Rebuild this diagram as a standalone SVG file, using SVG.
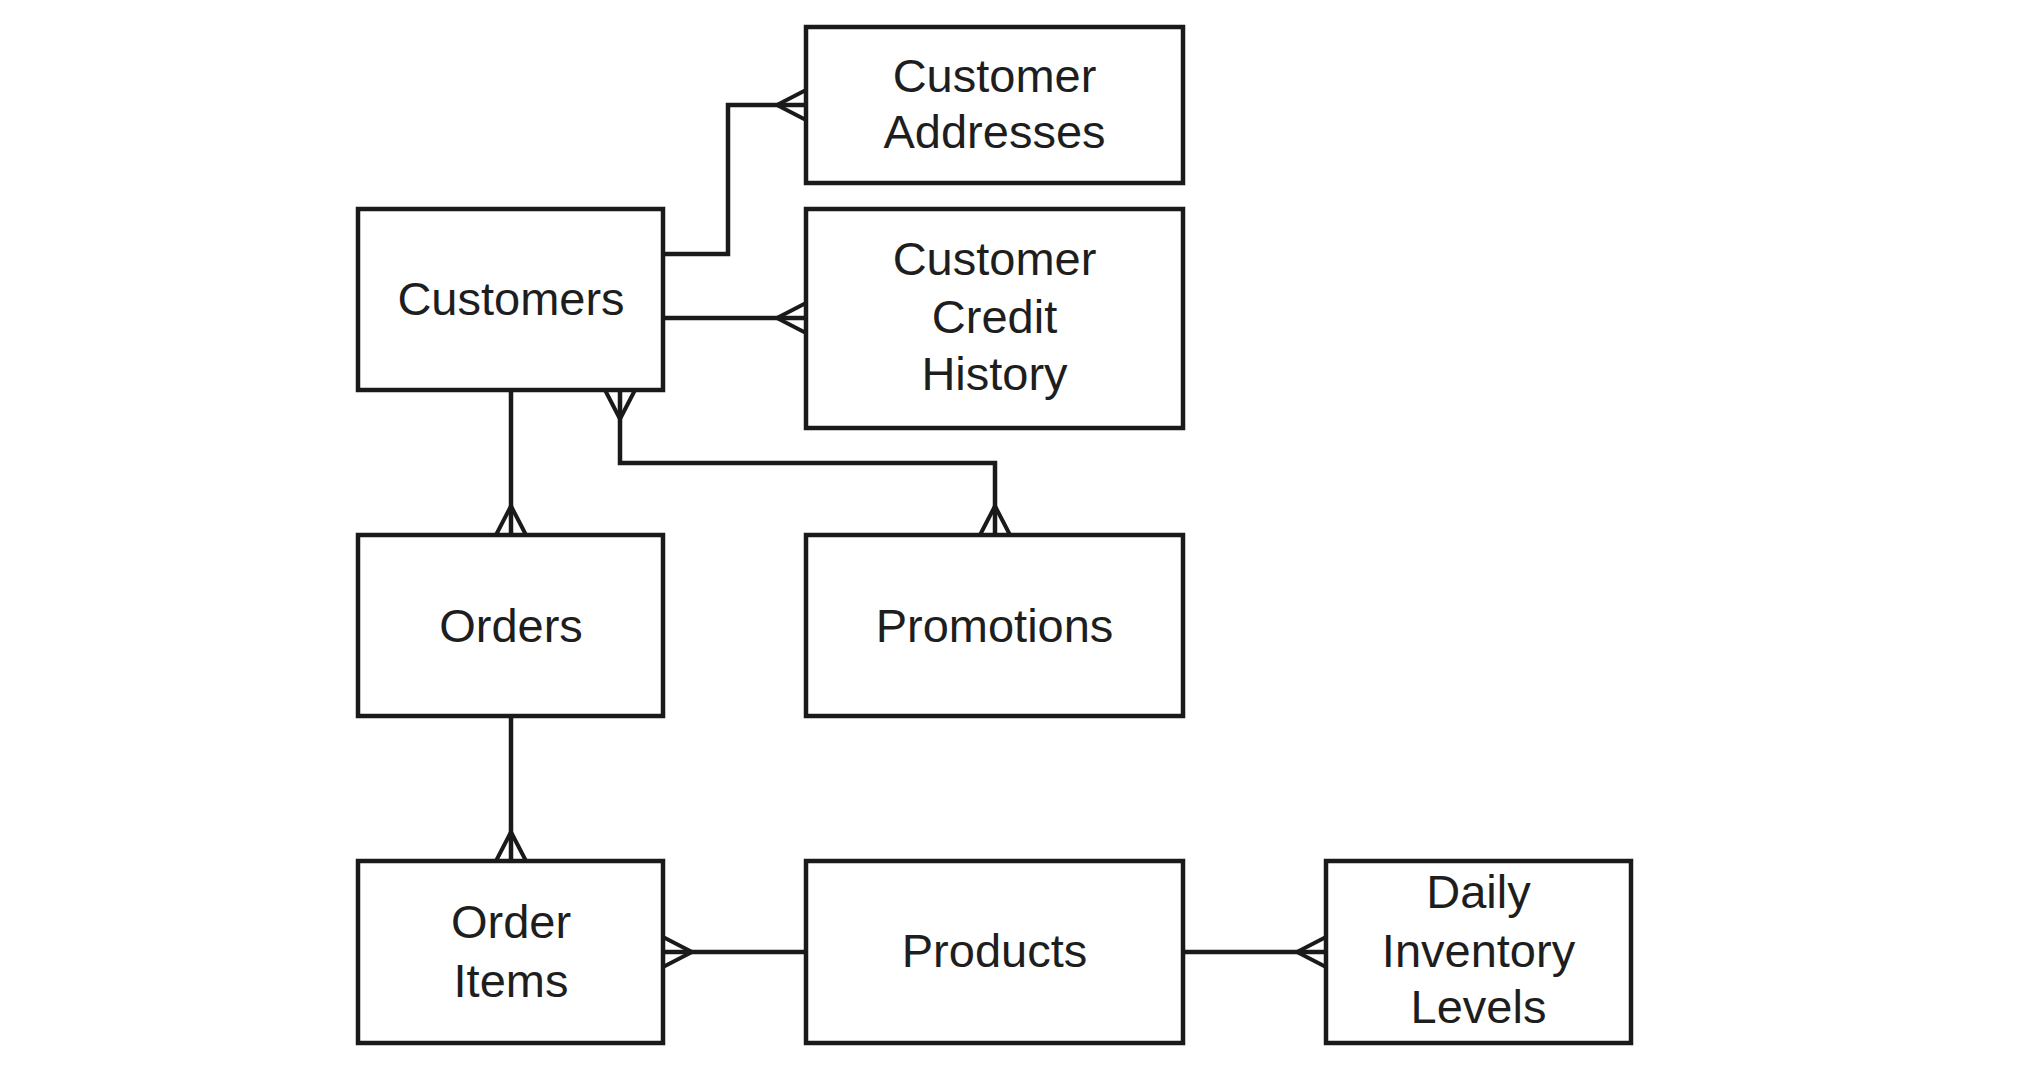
<svg xmlns="http://www.w3.org/2000/svg" width="2020" height="1068" viewBox="0 0 2020 1068">
<style>
.box{fill:#fff;stroke:#1a1a1a;stroke-width:4.5}
.lbl{font-family:"Liberation Sans",Arial,sans-serif;font-size:47px;fill:#1e1e1e;text-anchor:middle}
.conn{fill:none;stroke:#1a1a1a;stroke-width:4.5}
</style>
<defs>
<marker id="many" markerUnits="userSpaceOnUse" markerWidth="40" markerHeight="40" viewBox="-34 -20 40 40" refX="0" refY="0" orient="auto-start-reverse" overflow="visible">
<path d="M-29,0 L0,-15 M-29,0 L0,15" fill="none" stroke="#1a1a1a" stroke-width="4"/>
</marker>
</defs>
<rect width="2020" height="1068" fill="#fff"/>
<g id="connectors">
<path class="conn" d="M663,254 H728 V105 H806" marker-end="url(#many)"/>
<path class="conn" d="M663,318 H806" marker-end="url(#many)"/>
<path class="conn" d="M511,390 V535" marker-end="url(#many)"/>
<path class="conn" d="M620,390 V463 H995 V535" marker-start="url(#many)" marker-end="url(#many)"/>
<path class="conn" d="M511,716 V861" marker-end="url(#many)"/>
<path class="conn" d="M806,952 H663" marker-end="url(#many)"/>
<path class="conn" d="M1183,952 H1326" marker-end="url(#many)"/>
</g>
<g id="customer-addresses">
<rect class="box" x="806" y="27" width="377" height="156"/>
<text class="lbl" x="994.5" y="92">Customer</text>
<text class="lbl" x="994.5" y="148">Addresses</text>
</g>
<g id="customers">
<rect class="box" x="358" y="209" width="305" height="181"/>
<text class="lbl" x="511" y="315">Customers</text>
</g>
<g id="customer-credit-history">
<rect class="box" x="806" y="209" width="377" height="219"/>
<text class="lbl" x="994.5" y="275">Customer</text>
<text class="lbl" x="994.5" y="333">Credit</text>
<text class="lbl" x="994.5" y="390">History</text>
</g>
<g id="orders">
<rect class="box" x="358" y="535" width="305" height="181"/>
<text class="lbl" x="511" y="642">Orders</text>
</g>
<g id="promotions">
<rect class="box" x="806" y="535" width="377" height="181"/>
<text class="lbl" x="994.5" y="642">Promotions</text>
</g>
<g id="order-items">
<rect class="box" x="358" y="861" width="305" height="182"/>
<text class="lbl" x="511" y="938">Order</text>
<text class="lbl" x="511" y="997">Items</text>
</g>
<g id="products">
<rect class="box" x="806" y="861" width="377" height="182"/>
<text class="lbl" x="994.5" y="967">Products</text>
</g>
<g id="daily-inventory-levels">
<rect class="box" x="1326" y="861" width="305" height="182"/>
<text class="lbl" x="1478.5" y="908">Daily</text>
<text class="lbl" x="1478.5" y="967">Inventory</text>
<text class="lbl" x="1478.5" y="1023">Levels</text>
</g>
</svg>
